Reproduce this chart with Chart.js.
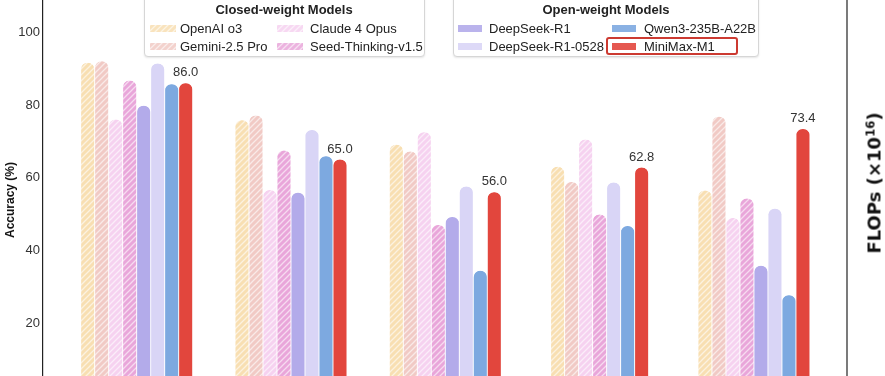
<!DOCTYPE html>
<html><head><meta charset="utf-8">
<script src="https://cdn.jsdelivr.net/npm/chart.js@4.4.1/dist/chart.umd.min.js"></script>
<style>
html,body{margin:0;padding:0;background:#fff;}
#wrap{position:relative;width:885px;height:376px;overflow:hidden;font-family:'Liberation Sans',Arial,sans-serif;}
#c{position:absolute;left:0;top:0;}
.box{position:absolute;background:#fff;border:1px solid #d6d6d6;border-radius:4px;box-shadow:0 1px 2px rgba(0,0,0,0.10);box-sizing:border-box;}
.t{position:absolute;font-size:13px;line-height:16px;color:#222;white-space:nowrap;}
.h{font-weight:bold;transform:translateX(-50%);}
.p{position:absolute;height:7px;}
.rot{position:absolute;white-space:nowrap;transform:translate(-50%,-50%) rotate(-90deg);font-weight:bold;color:#111;}
.hl{position:absolute;border:2px solid #cc3a31;border-radius:3px;box-sizing:border-box;}
</style></head>
<body><div id="wrap"><canvas id="c" width="885" height="376"></canvas></div>
<script>
// ---- data ----
const categories = ['AIME 2024', 'LiveCodeBench', 'SWE-bench Verified', 'TAU-bench', 'MRCR (4-needle)'];
const seriesNames = ['OpenAI o3', 'Gemini-2.5 Pro', 'Claude 4 Opus', 'Seed-Thinking-v1.5',
                     'DeepSeek-R1', 'DeepSeek-R1-0528', 'Qwen3-235B-A22B', 'MiniMax-M1'];
const openaiO3      = [91.6, 75.8, 69.1, 63.0, 56.5];
const gemini25Pro   = [92.0, 77.1, 67.2, 58.8, 76.8];
const claude4Opus   = [76.0, 56.6, 72.5, 70.5, 48.9];
const seedThinking  = [86.7, 67.5, 47.0, 49.9, 54.3];
const deepseekR1    = [79.8, 55.9, 49.2, null, 35.8];
const deepseekR1_0528 = [91.4, 73.1, 57.6, 58.7, 51.5];
const qwen3         = [85.7, 65.9, 34.4, 46.7, 27.7];
const minimaxM1     = [86.0, 65.0, 56.0, 62.8, 73.4];
const yTicks = [20, 40, 60, 80, 100];

const seriesValues = [openaiO3, gemini25Pro, claude4Opus, seedThinking, deepseekR1, deepseekR1_0528, qwen3, minimaxM1];
const colors = ['#f8dfb2', '#f1cac5', '#f6d2f0', '#e9a6da', '#b3abea', '#d9d5f6', '#7da9e0', '#e2463d'];
const hatched = [true, true, true, true, false, false, false, false];

function hatchTile(color){
  const c = document.createElement('canvas'); c.width = c.height = 6;
  const g = c.getContext('2d');
  g.fillStyle = color; g.fillRect(0,0,6,6);
  g.strokeStyle = 'rgba(255,255,255,0.6)'; g.lineWidth = 1.3;
  g.beginPath();
  g.moveTo(0,6); g.lineTo(6,0);
  g.moveTo(-1,1); g.lineTo(1,-1);
  g.moveTo(5,7); g.lineTo(7,5);
  g.stroke();
  return c;
}
const ctx = document.getElementById('c').getContext('2d');
const fills = colors.map((col,i)=> hatched[i] ? ctx.createPattern(hatchTile(col),'repeat') : col);

const datasets = seriesValues.map((vals,i)=>({
  label: seriesNames[i],
  data: vals.map((v,k)=>({x:k, y:v})),
  backgroundColor: fills[i],
  borderColor: 'rgba(0,0,0,0)',
  borderWidth: {left:0.8, right:0.8, top:0, bottom:0},
  borderRadius: 7,
  borderSkipped: 'bottom',
  barThickness: 14,
  skipNull: true
}));

const sideLines = {
  id:'sideLines',
  afterDraw(chart){
    const a = chart.chartArea, c = chart.ctx;
    c.save(); c.strokeStyle = '#222'; c.lineWidth = 1.2;
    c.beginPath(); c.moveTo(a.right, 0); c.lineTo(a.right, chart.height); c.stroke();
    c.restore();
  }
};
const valueLabels = {
  id:'valueLabels',
  afterDatasetsDraw(chart){
    const meta = chart.getDatasetMeta(7), c = chart.ctx;
    c.save();
    c.font = '13px "Liberation Sans", Arial, sans-serif';
    c.fillStyle = '#333'; c.textAlign = 'center'; c.textBaseline = 'alphabetic';
    meta.data.forEach((bar,i)=>{ c.fillText(minimaxM1[i].toFixed(1), bar.x, bar.y - 7); });
    c.restore();
  }
};

new Chart(ctx, {
  type:'bar',
  data:{ datasets },
  options:{
    responsive:false, animation:false, devicePixelRatio:1,
    layout:{padding:{left:0, right:38, top:0, bottom:0}},
    plugins:{legend:{display:false}, tooltip:{enabled:false}},
    scales:{
      x:{type:'linear', min:-0.607, max:4.603, display:false, offset:false,
         ticks:{callback:(v)=>categories[v]}},
      y:{min:5.5, max:108.86,
         afterBuildTicks:(s)=>{ s.ticks = yTicks.map(v=>({value:v})); },
         ticks:{color:'#333', padding:3, font:{size:13, family:'"Liberation Sans", Arial, sans-serif'}},
         grid:{display:false, drawTicks:false},
         border:{display:true, color:'#222', width:1.2},
         afterFit:(s)=>{ s.width = 43; s.paddingTop = 0; s.paddingBottom = 0; }
      }
    }
  },
  plugins:[sideLines, valueLabels]
});

// ---- legends (HTML) ----
const wrap = document.getElementById('wrap');
function el(cls, style, html){ const d=document.createElement('div'); d.className=cls; Object.assign(d.style, style); if(html!==undefined) d.innerHTML=html; wrap.appendChild(d); return d; }
el('box', {left:'144px', top:'-6px', width:'281px', height:'63px'});
el('box', {left:'453px', top:'-6px', width:'306px', height:'63px'});
el('t h', {left:'284px', top:'2px'}, 'Closed-weight Models');
el('t h', {left:'606px', top:'2px'}, 'Open-weight Models');
const legendSlots = [
  {p:150, w:26, t:180, r:0}, {p:150, w:26, t:180, r:1}, {p:277, w:26, t:310, r:0}, {p:277, w:26, t:310, r:1},
  {p:458, w:24, t:489, r:0}, {p:458, w:24, t:489, r:1}, {p:612, w:24, t:644, r:0}, {p:612, w:24, t:644, r:1}
];
seriesNames.forEach((name,i)=>{
  const s = legendSlots[i];
  const top = s.r ? 39 : 21;
  const ptop = s.r ? 43 : 25;
  const bg = hatched[i] ? 'url(' + hatchTile(colors[i]).toDataURL() + ')' : colors[i];
  el('p', {left:s.p+'px', top:ptop+'px', width:s.w+'px', background:bg, opacity: hatched[i]?0.85:0.9});
  el('t', {left:s.t+'px', top:top+'px'}, name);
});
el('hl', {left:'606px', top:'37px', width:'132px', height:'18px'});

el('rot', {left:'10px', top:'200px', fontSize:'12px', fontFamily:'"Liberation Sans", Arial, sans-serif'}, 'Accuracy (%)');
el('rot', {left:'873.5px', top:'183px', fontSize:'18px', fontFamily:'"DejaVu Sans", sans-serif'}, 'FLOPs (×10<sup style="font-size:0.65em;vertical-align:0.55em;line-height:0">16</sup>)');
</script>
</body></html>
